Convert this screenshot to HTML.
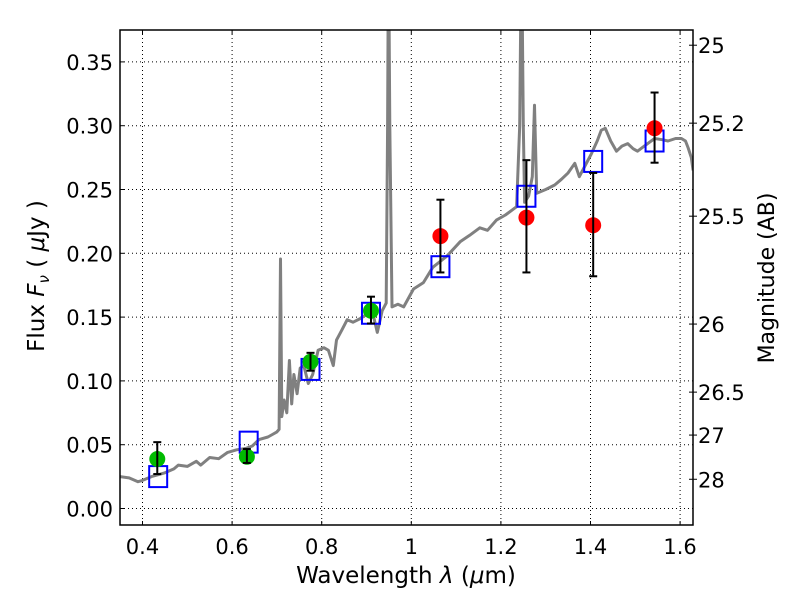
<!DOCTYPE html>
<html><head><meta charset="utf-8"><style>
html,body{margin:0;padding:0;background:#fff;width:800px;height:600px;overflow:hidden}
svg text{font-family:"DejaVu Sans","Liberation Sans",sans-serif;fill:#000}
</style></head><body>
<svg id="chart" width="800" height="600" viewBox="0 0 800 600" xmlns="http://www.w3.org/2000/svg">
<rect x="0" y="0" width="800" height="600" fill="#fff"/>
<defs><clipPath id="plotclip"><rect x="120" y="30" width="573" height="495"/></clipPath></defs>
<g id="grid"></g>
<g id="marks" clip-path="url(#plotclip)"></g>
<g id="axes"></g>
<text x="406" y="583" font-size="23" text-anchor="middle">Wavelength  <tspan font-style="italic">λ</tspan> (<tspan font-style="italic">μ</tspan>m)</text>
<text transform="translate(44,276) rotate(-90)" font-size="23" text-anchor="middle">Flux  <tspan font-style="italic">F</tspan><tspan font-style="italic" font-size="15" dy="5">ν</tspan><tspan dy="-5">  ( </tspan><tspan font-style="italic">μ</tspan>Jy )</text>
<text transform="translate(774,278) rotate(-90)" font-size="22" text-anchor="middle">Magnitude (AB)</text>
</svg>
<script>
const specLam = [0.35,0.37,0.39,0.40,0.42,0.45,0.47,0.48,0.50,0.52,0.53,0.55,0.57,0.59,0.61,0.63,0.645,0.66,0.68,0.69,0.70,0.705,0.708,0.711,0.716,0.722,0.728,0.733,0.738,0.745,0.752,0.760,0.770,0.780,0.792,0.805,0.815,0.826,0.833,0.845,0.857,0.870,0.887,0.900,0.909,0.916,0.924,0.935,0.944,0.947,0.949,0.952,0.957,0.970,0.983,1.005,1.027,1.048,1.080,1.109,1.130,1.153,1.170,1.190,1.210,1.235,1.242,1.246,1.250,1.253,1.262,1.270,1.275,1.280,1.300,1.320,1.335,1.350,1.365,1.375,1.390,1.402,1.415,1.424,1.433,1.445,1.458,1.470,1.483,1.495,1.505,1.520,1.543,1.560,1.573,1.590,1.603,1.612,1.618,1.625,1.629];
const specFlux = [0.025,0.024,0.021,0.022,0.025,0.028,0.031,0.034,0.033,0.037,0.034,0.040,0.039,0.044,0.046,0.047,0.049,0.054,0.056,0.058,0.060,0.062,0.1955,0.072,0.085,0.075,0.116,0.082,0.105,0.09,0.11,0.112,0.098,0.105,0.124,0.126,0.124,0.112,0.132,0.140,0.148,0.146,0.149,0.152,0.155,0.150,0.138,0.155,0.161,0.30,0.45,0.30,0.158,0.160,0.158,0.172,0.177,0.189,0.198,0.209,0.214,0.220,0.218,0.226,0.230,0.2365,0.30,0.45,0.30,0.240,0.245,0.260,0.316,0.247,0.250,0.2535,0.258,0.263,0.2705,0.260,0.270,0.278,0.288,0.2965,0.298,0.288,0.280,0.284,0.286,0.282,0.280,0.284,0.290,0.289,0.288,0.290,0.290,0.288,0.2825,0.275,0.265];
const greenLam = [0.433,0.633,0.775,0.910];
const greenFlux = [0.0388,0.0406,0.115,0.155];
const greenErrHi = [0.052,0.0466,0.122,0.166];
const greenErrLo = [0.027,0.0357,0.108,0.145];
const redLam = [1.065,1.257,1.406,1.543];
const redFlux = [0.2135,0.228,0.222,0.298];
const redErrHi = [0.242,0.273,0.263,0.326];
const redErrLo = [0.185,0.185,0.182,0.271];
const boxLam = [0.435,0.637,0.775,0.910,1.065,1.257,1.406,1.543];
const boxFlux = [0.025,0.052,0.109,0.153,0.1895,0.2447,0.272,0.288];
const xTicks = [0.4,0.6,0.8,1.0,1.2,1.4,1.6];
const xTickLabels = ["0.4","0.6","0.8","1","1.2","1.4","1.6"];
const yTicks = [0,0.05,0.10,0.15,0.20,0.25,0.30,0.35];
const yTickLabels = ["0.00","0.05","0.10","0.15","0.20","0.25","0.30","0.35"];
const magTicks = [25,25.2,25.5,26,26.5,27,28];
const magTickLabels = ["25","25.2","25.5","26","26.5","27","28"];

const L=120,R=693,T=30,B=525;
function xs(v){return 142.5+(v-0.4)*448;}
function ys(v){return 508.5-v*1276;}
function magToFlux(m){return Math.pow(10,(23.9-m)/2.5);}
const NS="http://www.w3.org/2000/svg";
function mk(tag,attrs,parent){const e=document.createElementNS(NS,tag);for(const k in attrs)e.setAttribute(k,attrs[k]);parent.appendChild(e);return e;}
const grid=document.getElementById('grid'),marks=document.getElementById('marks'),axes=document.getElementById('axes');

xTicks.forEach((v,i)=>{
  const x=xs(v);
  const g=mk('line',{x1:x,x2:x,y1:T,y2:B,stroke:'#000','stroke-width':1,'stroke-dasharray':'1,3'},grid);
  
  
  mk('line',{x1:x,x2:x,y1:B,y2:B-4,stroke:'#000','stroke-width':1},axes);
  mk('line',{x1:x,x2:x,y1:T,y2:T+4,stroke:'#000','stroke-width':1},axes);
  const t=mk('text',{x:x,y:B+29,'font-size':21,'text-anchor':'middle'},axes);
  t.textContent=xTickLabels[i];
  
  
});
yTicks.forEach((v,i)=>{
  const y=ys(v);
  const g=mk('line',{x1:L,x2:R,y1:y,y2:y,stroke:'#000','stroke-width':1,'stroke-dasharray':'1,3'},grid);
  
  
  mk('line',{x1:L,x2:L+4,y1:y,y2:y,stroke:'#000','stroke-width':1},axes);
  const t=mk('text',{x:L-7,y:y+8,'font-size':21,'text-anchor':'end'},axes);
  t.textContent=yTickLabels[i];
  
  
});
magTicks.forEach((m,i)=>{
  const y=ys(magToFlux(m));
  mk('line',{x1:R-4,x2:R+4,y1:y,y2:y,stroke:'#000','stroke-width':1},axes);
  const t=mk('text',{x:R+5,y:y+8,'font-size':21,'text-anchor':'start'},axes);
  t.textContent=magTickLabels[i];
  
  
});

let d='';
specLam.forEach((l,i)=>{d+=(i?'L':'M')+xs(l).toFixed(1)+','+ys(specFlux[i]).toFixed(1);});
const sp=mk('path',{d:d,fill:'none',stroke:'#808080','stroke-width':3,'stroke-linejoin':'round'},marks);



boxLam.forEach((l,i)=>{
  const r=mk('rect',{x:xs(l)-9,y:ys(boxFlux[i])-10.5,width:18,height:21,fill:'none',stroke:'#0000ff','stroke-width':2},marks);
  
  
});

function points(lams,fl,hi,lo,color,name){
  lams.forEach((l,i)=>{
    const c=mk('circle',{cx:xs(l),cy:ys(fl[i]),r:8,fill:color},marks);
    
    
  });
  lams.forEach((l,i)=>{
    const x=xs(l),y1=ys(hi[i]),y2=ys(lo[i]);
    const e=mk('g',{stroke:'#000','stroke-width':2},marks);
    
    
    mk('line',{x1:x,x2:x,y1:y1,y2:y2},e);
    mk('line',{x1:x-4,x2:x+4,y1:y1,y2:y1},e);
    mk('line',{x1:x-4,x2:x+4,y1:y2,y2:y2},e);
  });
}
points(greenLam,greenFlux,greenErrHi,greenErrLo,'#00bb00','optical-detection');
points(redLam,redFlux,redErrHi,redErrLo,'#ff0000','nir-detection');

const fr=mk('rect',{x:L,y:T,width:R-L,height:B-T,fill:'none',stroke:'#000','stroke-width':1.5},axes);


</script>
</body></html>
